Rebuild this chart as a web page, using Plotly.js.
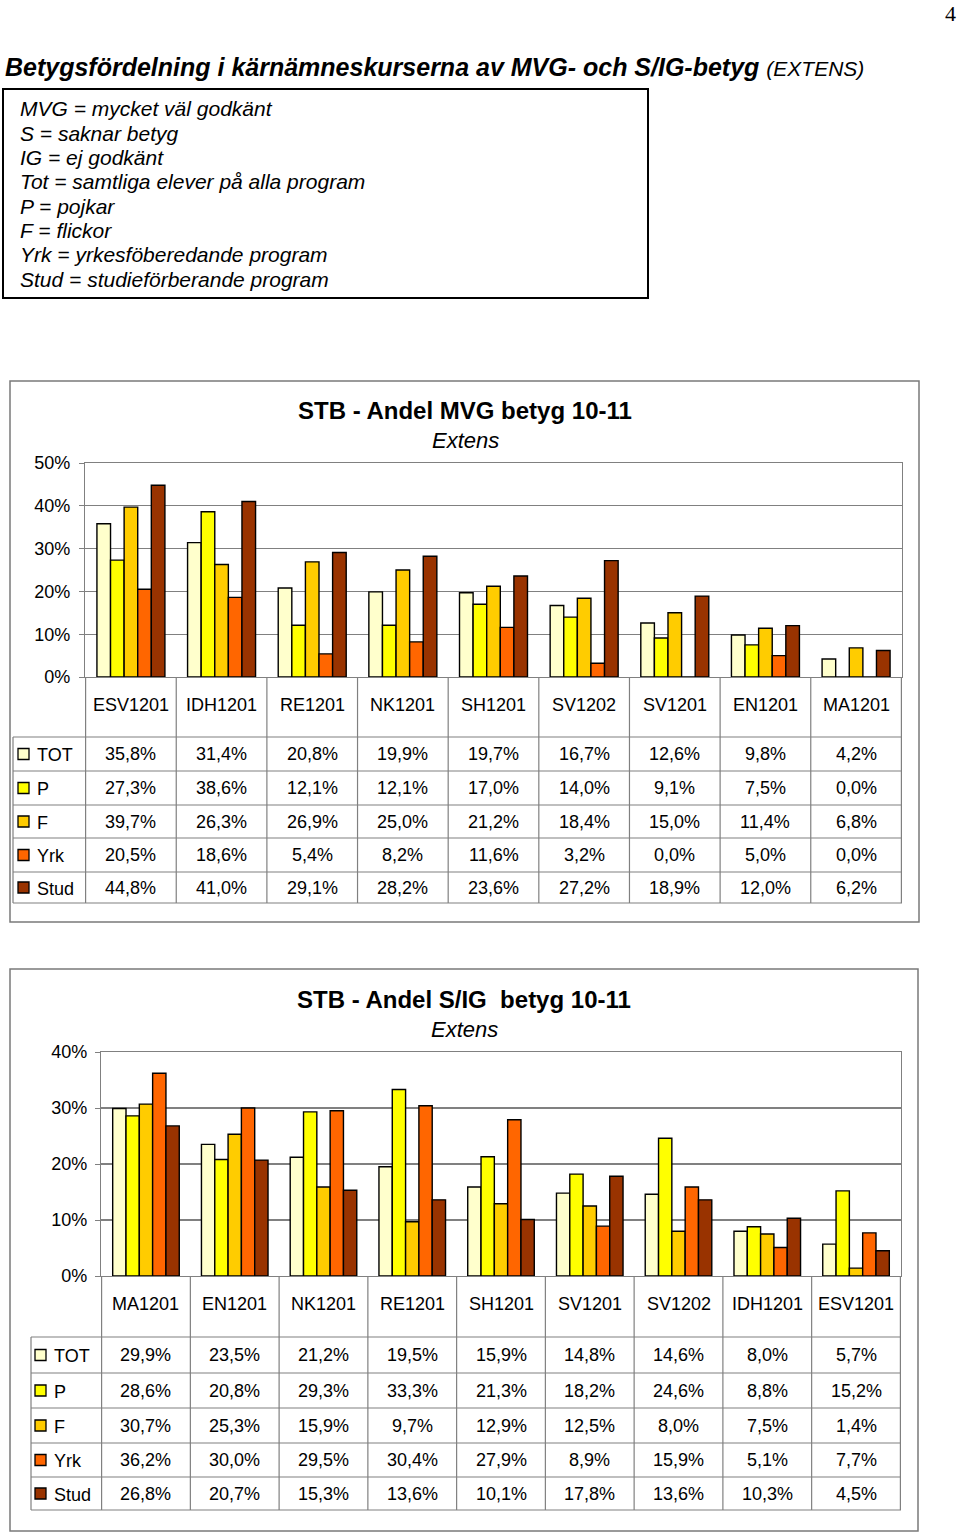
<!DOCTYPE html>
<html><head><meta charset="utf-8">
<script src="https://cdn.plot.ly/plotly-3.0.1.min.js"></script>
<style>html,body{margin:0;padding:0;background:#fff}</style>
</head><body><div id="chart" style="width:960px;height:1535px"></div>
<script>
// ---------- data ----------
const seriesNames = ['TOT', 'P', 'F', 'Yrk', 'Stud'];
const seriesColors = ['#FFFFCC', '#FFFF00', '#FFCC00', '#FF6600', '#993300'];

const mvgCategories = ['ESV1201', 'IDH1201', 'RE1201', 'NK1201', 'SH1201', 'SV1202', 'SV1201', 'EN1201', 'MA1201'];
const mvgTOT  = [35.8, 31.4, 20.8, 19.9, 19.7, 16.7, 12.6, 9.8, 4.2];
const mvgP    = [27.3, 38.6, 12.1, 12.1, 17.0, 14.0, 9.1, 7.5, 0.0];
const mvgF    = [39.7, 26.3, 26.9, 25.0, 21.2, 18.4, 15.0, 11.4, 6.8];
const mvgYrk  = [20.5, 18.6, 5.4, 8.2, 11.6, 3.2, 0.0, 5.0, 0.0];
const mvgStud = [44.8, 41.0, 29.1, 28.2, 23.6, 27.2, 18.9, 12.0, 6.2];

const sigCategories = ['MA1201', 'EN1201', 'NK1201', 'RE1201', 'SH1201', 'SV1201', 'SV1202', 'IDH1201', 'ESV1201'];
const sigTOT  = [29.9, 23.5, 21.2, 19.5, 15.9, 14.8, 14.6, 8.0, 5.7];
const sigP    = [28.6, 20.8, 29.3, 33.3, 21.3, 18.2, 24.6, 8.8, 15.2];
const sigF    = [30.7, 25.3, 15.9, 9.7, 12.9, 12.5, 8.0, 7.5, 1.4];
const sigYrk  = [36.2, 30.0, 29.5, 30.4, 27.9, 8.9, 15.9, 5.1, 7.7];
const sigStud = [26.8, 20.7, 15.3, 13.6, 10.1, 17.8, 13.6, 10.3, 4.5];

const pageTitle = 'Betygsfördelning i kärnämneskurserna av MVG- och S/IG-betyg';
const pageTitleSuffix = '(EXTENS)';
const pageNumber = '4';
const definitions = [
  'MVG = mycket väl godkänt',
  'S = saknar betyg',
  'IG = ej godkänt',
  'Tot = samtliga elever på alla program',
  'P = pojkar',
  'F = flickor',
  'Yrk = yrkesföberedande program',
  'Stud = studieförberande program'
];
const mvgTitle = 'STB - Andel MVG betyg 10-11';
const sigTitle = 'STB - Andel S/IG&nbsp; betyg 10-11';
const subTitle = 'Extens';

// ---------- helpers ----------
const W = 960, H = 1535;
const px = x => x / W;
const py = y => 1 - y / H;
const FONT = 'Liberation Sans, Arial, sans-serif';
const fmt = v => v.toFixed(1).replace('.', ',') + '%';
const GRID = '#808080';

const mvgSeries = [mvgTOT, mvgP, mvgF, mvgYrk, mvgStud];
const sigSeries = [sigTOT, sigP, sigF, sigYrk, sigStud];

const traces = [];
seriesNames.forEach((n, i) => {
  traces.push({type: 'bar', name: n, x: mvgCategories, y: mvgSeries[i], xaxis: 'x', yaxis: 'y',
    marker: {color: seriesColors[i], line: {color: '#000', width: 1.4}}, showlegend: false, hoverinfo: 'skip'});
});
seriesNames.forEach((n, i) => {
  traces.push({type: 'bar', name: n, x: sigCategories, y: sigSeries[i], xaxis: 'x2', yaxis: 'y2',
    marker: {color: seriesColors[i], line: {color: '#000', width: 1.4}}, showlegend: false, hoverinfo: 'skip'});
});

const shapes = [];
const annotations = [];

// page texts
annotations.push({xref: 'paper', yref: 'paper', x: px(950), y: py(14), text: pageNumber, showarrow: false,
  xanchor: 'center', yanchor: 'middle', font: {family: 'Liberation Serif, serif', size: 22, color: '#000'}});
annotations.push({xref: 'paper', yref: 'paper', x: px(3), y: py(67), showarrow: false, xanchor: 'left', yanchor: 'middle',
  text: '<b><i>' + pageTitle + '</i></b> <i><span style="font-size:21px">' + pageTitleSuffix + '</span></i>',
  font: {family: FONT, size: 25, color: '#000'}});

// definitions box
shapes.push({type: 'rect', xref: 'paper', yref: 'paper', x0: px(3), x1: px(648), y0: py(298), y1: py(89),
  line: {color: '#000', width: 2}, fillcolor: 'rgba(0,0,0,0)'});
definitions.forEach((d, i) => {
  annotations.push({xref: 'paper', yref: 'paper', x: px(18), y: py(109 + 24.3 * i), text: '<i>' + d + '</i>',
    showarrow: false, xanchor: 'left', yanchor: 'middle', font: {family: FONT, size: 21, color: '#000'}});
});

// chart builder for decorations
function decorate(cfg) {
  shapes.push({type: 'rect', xref: 'paper', yref: 'paper', x0: px(cfg.box[0]), x1: px(cfg.box[2]),
    y0: py(cfg.box[3]), y1: py(cfg.box[1]), line: {color: '#7a7a7a', width: 1.5}, fillcolor: 'rgba(0,0,0,0)', layer: 'below'});
  annotations.push({xref: 'paper', yref: 'paper', x: px(cfg.titleX), y: py(cfg.titleY), text: '<b>' + cfg.title + '</b>',
    showarrow: false, xanchor: 'center', yanchor: 'middle', font: {family: FONT, size: 24, color: '#000'}});
  annotations.push({xref: 'paper', yref: 'paper', x: px(cfg.titleX), y: py(cfg.titleY + 29), text: '<i>' + subTitle + '</i>',
    showarrow: false, xanchor: 'center', yanchor: 'middle', font: {family: FONT, size: 22, color: '#000'}});
  const rows = cfg.rows;
  rows.forEach(r => {
    shapes.push({type: 'line', xref: 'paper', yref: 'paper', x0: px(cfg.tableLeft), x1: px(cfg.plotRight),
      y0: py(r), y1: py(r), line: {color: GRID, width: 1.2}});
  });
  shapes.push({type: 'line', xref: 'paper', yref: 'paper', x0: px(cfg.tableLeft), x1: px(cfg.tableLeft),
    y0: py(rows[0]), y1: py(rows[rows.length - 1]), line: {color: GRID, width: 1.2}});
  for (let k = 0; k <= cfg.categories.length; k++) {
    shapes.push({type: 'line', xref: cfg.xref, yref: 'paper', x0: k - 0.5, x1: k - 0.5,
      y0: py(cfg.axisY), y1: py(rows[rows.length - 1]), line: {color: GRID, width: 1.2}});
  }
  cfg.categories.forEach(c => {
    annotations.push({xref: cfg.xref, yref: 'paper', x: c, y: py(cfg.catY), text: c, showarrow: false,
      xanchor: 'center', yanchor: 'middle', font: {family: FONT, size: 18, color: '#000'}});
  });
  seriesNames.forEach((n, i) => {
    const yc = (rows[i] + rows[i + 1]) / 2;
    shapes.push({type: 'rect', xref: 'paper', yref: 'paper', x0: px(cfg.keyX), x1: px(cfg.keyX + 11),
      y0: py(yc + 5.5), y1: py(yc - 5.5), fillcolor: seriesColors[i], line: {color: '#000', width: 1.3}});
    annotations.push({xref: 'paper', yref: 'paper', x: px(cfg.keyX + 17), y: py(yc + 1), text: n, showarrow: false,
      xanchor: 'left', yanchor: 'middle', font: {family: FONT, size: 18, color: '#000'}});
    cfg.categories.forEach((c, j) => {
      annotations.push({xref: cfg.xref, yref: 'paper', x: c, y: py(yc), text: fmt(cfg.series[i][j]), showarrow: false,
        xanchor: 'center', yanchor: 'middle', font: {family: FONT, size: 18, color: '#000'}});
    });
  });
}

decorate({box: [10, 381, 919, 922], title: mvgTitle, titleX: 465, titleY: 411, rows: [737, 771, 805, 838, 872, 903],
  tableLeft: 13, plotRight: 902, axisY: 677, catY: 705, keyX: 18, xref: 'x', categories: mvgCategories, series: mvgSeries});
decorate({box: [10, 969, 918, 1531], title: sigTitle, titleX: 464, titleY: 1000, rows: [1337, 1373, 1408, 1443, 1477, 1510],
  tableLeft: 31, plotRight: 901, axisY: 1276, catY: 1304, keyX: 35, xref: 'x2', categories: sigCategories, series: sigSeries});

const axX = {type: 'category', showticklabels: false, ticks: '', showgrid: false, showline: true, mirror: true,
  linecolor: GRID, linewidth: 1.2, zeroline: false, fixedrange: true};
const axY = {ticksuffix: '%', dtick: 10, showgrid: true, gridcolor: GRID, gridwidth: 1.2, showline: true, mirror: true,
  linecolor: GRID, linewidth: 1.2, ticks: 'outside', ticklen: 5, tickcolor: GRID, zeroline: false, fixedrange: true,
  tickfont: {family: FONT, size: 18, color: '#000'}, ticklabelstandoff: 5};

const layout = {
  width: W, height: H, margin: {l: 0, r: 0, t: 0, b: 0}, paper_bgcolor: '#fff', plot_bgcolor: '#fff',
  barmode: 'group', bargap: 0.25, bargroupgap: 0,
  xaxis: Object.assign({}, axX, {domain: [px(85), px(902)], anchor: 'y'}),
  yaxis: Object.assign({}, axY, {domain: [py(677), py(463)], range: [0, 50], anchor: 'x'}),
  xaxis2: Object.assign({}, axX, {domain: [px(101), px(901)], anchor: 'y2'}),
  yaxis2: Object.assign({}, axY, {domain: [py(1276), py(1052)], range: [0, 40], anchor: 'x2', ticklabelstandoff: 4}),
  shapes: shapes, annotations: annotations, showlegend: false,
  font: {family: FONT, color: '#000'}
};

Plotly.newPlot('chart', traces, layout, {staticPlot: true, displayModeBar: false});
</script>
</body></html>
